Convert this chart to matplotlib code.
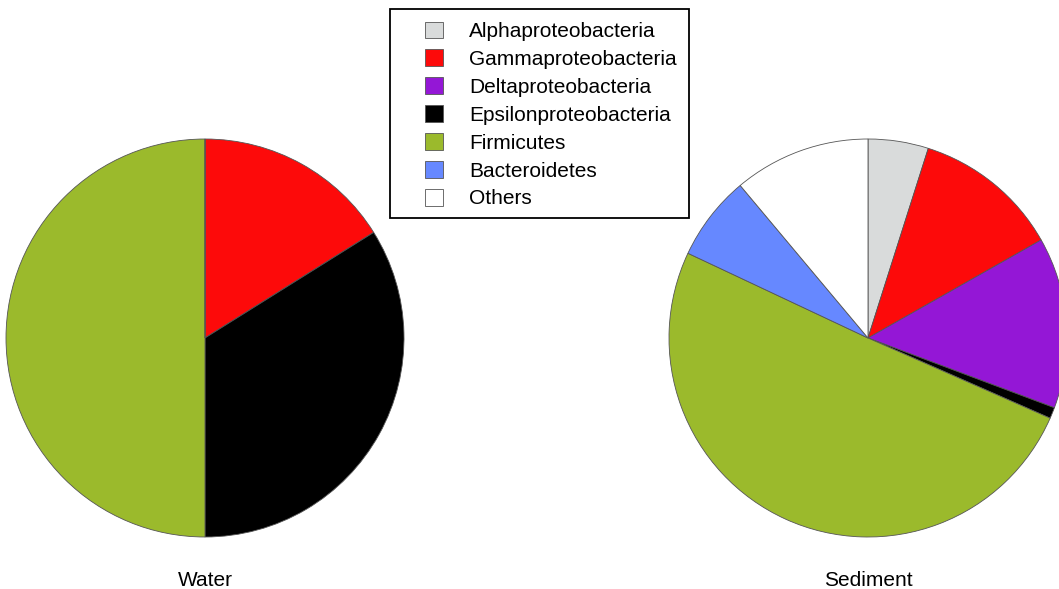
import matplotlib
matplotlib.use('Agg')
import matplotlib.pyplot as plt
from matplotlib.patches import Patch, Rectangle

plt.rcParams['font.family'] = ['Liberation Sans', 'DejaVu Sans']

groups = ['Alphaproteobacteria', 'Gammaproteobacteria', 'Deltaproteobacteria',
          'Epsilonproteobacteria', 'Firmicutes', 'Bacteroidetes', 'Others']
colors = ['#d9dbdb', '#fd0a0a', '#9417d6', '#000000', '#9bba2c', '#6688ff', '#ffffff']

water = [0, 16.1, 0, 33.9, 50.0, 0, 0]
sediment = [4.9, 11.9, 13.9, 0.9, 50.4, 6.9, 11.1]

W, H = 1059, 589
fig = plt.figure(figsize=(W / 100, H / 100), dpi=100)

def draw_pie(cx, vals, title):
    r = 199
    cy = 338
    ax = fig.add_axes([(cx - r) / W, (H - cy - r) / H, 2 * r / W, 2 * r / H])
    ax.pie(vals, colors=colors, startangle=90, counterclock=False,
           wedgeprops=dict(edgecolor='#555555', linewidth=0.6))
    ax.set_xlim(-1, 1)
    ax.set_ylim(-1, 1)
    ax.set_aspect('auto')
    ax.axis('off')
    fig.text(cx / W, 1 - 581 / H, title, ha='center', va='center', fontsize=15)

draw_pie(205, water, 'Water')
draw_pie(868, sediment, 'Sediment')

handles = [Patch(facecolor=c, edgecolor='#555555', linewidth=0.6) for c in colors]
fig.legend(handles, groups, loc='upper left', bbox_to_anchor=(425 / W, 1 - 21.5 / H),
           frameon=False, borderpad=0, borderaxespad=0, handlelength=0.87,
           handleheight=0.87, handletextpad=1.25, labelspacing=0.395, fontsize=15)
fig.patches.append(Rectangle((390 / W, 1 - 218 / H), 299 / W, 209 / H,
                             transform=fig.transFigure, fill=False,
                             edgecolor='black', linewidth=1.3))

fig.savefig('out.png', dpi=100)
